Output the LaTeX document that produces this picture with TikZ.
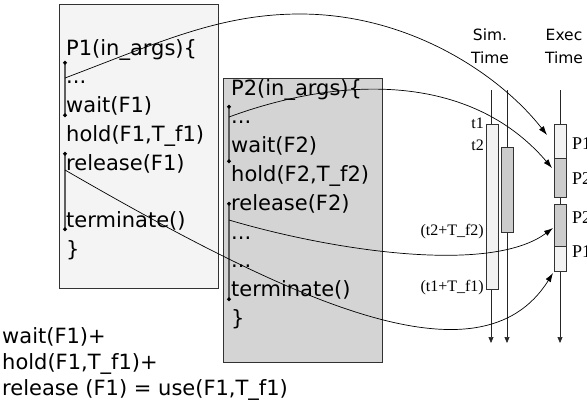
\documentclass[tikz,border=0pt]{standalone}
\usepackage{fontspec}
\setmainfont{DejaVu Sans}
\newfontfamily\serifnum{Liberation Serif}
\usetikzlibrary{arrows.meta, positioning}
\definecolor{procone}{RGB}{244,244,244}
\definecolor{proctwo}{RGB}{212,212,212}
\definecolor{edgegray}{RGB}{50,50,50}
\definecolor{bargray}{RGB}{95,95,95}
\definecolor{slotlight}{RGB}{242,242,242}
\definecolor{slotdark}{RGB}{204,204,204}

\begin{document}
\begin{tikzpicture}[x=1pt, y=-1pt,
        procbox/.style={rectangle, draw=edgegray, line width=0.8pt, minimum width=159pt, minimum height=284pt, inner sep=0pt},
        code/.style={anchor=north west, align=left, inner sep=0pt, font=\fontsize{21pt}{28.8pt}\selectfont},
        marker/.style={bargray, line width=1.3pt, {Circle[length=3.6pt,color=black]}-{Circle[length=3.6pt,color=black]}},
        call/.style={black, line width=0.7pt, -{Latex[length=9pt,width=6pt]}},
        axis/.style={black!85, line width=0.7pt, -{Triangle[length=6pt,width=5pt]}},
        slot/.style={rectangle, draw=edgegray, line width=0.7pt, minimum width=12pt, inner sep=0pt},
        tlabel/.style={inner sep=0pt, font=\serifnum\fontsize{16pt}{18pt}\selectfont},
        plabel/.style={anchor=west, inner sep=0pt, font=\serifnum\fontsize{18pt}{20pt}\selectfont},
        timehead/.style={align=center, inner sep=0pt, font=\fontsize{15.5pt}{23pt}\selectfont}
    ]
        \useasboundingbox (0,0) rectangle (587,416);
        \clip (0,0) rectangle (587,416);

        % process P1
        \node[procbox, fill=procone] (p1box) at (138.5,146) {};
        \node[code] (p1code) at (66,39) {P1(in\_args)\{\\...\\wait(F1)\\hold(F1,T\_f1)\\release(F1)\\[28.8pt]terminate()\\\}};
        \draw[marker] (65,61) -- (65,117);
        \draw[marker] (65,152) -- (65,231);

        % process P2
        \node[procbox, fill=proctwo] (p2box) at (303,220) {};
        \node[code] (p2code) at (231,79) {P2(in\_args)\{\\...\\wait(F2)\\hold(F2,T\_f2)\\release(F2)\\...\\...\\terminate()\\\}};
        \draw[marker] (229,105) -- (229,163);
        \draw[marker] (229,202) -- (229,301);

        % use() note
        \node[anchor=north west, align=left, inner sep=0pt, font=\fontsize{21pt}{26pt}\selectfont] (usenote) at (2,327) {wait(F1)+\\hold(F1,T\_f1)+\\release (F1) = use(F1,T\_f1)};

        % time axes
        \node[timehead] (simhead) at (490,46) {Sim.\\Time};
        \node[timehead] (exechead) at (564,46) {Exec\\Time};
        \coordinate (simA) at (491,90);
        \coordinate (simB) at (507,90);
        \coordinate (execA) at (560,90);
        \draw[axis] (simA) -- (491,343);
        \draw[axis] (simB) -- (507,343);
        \draw[axis] (execA) -- (560,343);

        \node[slot, fill=slotlight, minimum height=165pt] (s1) at (492,206.5) {};
        \node[slot, fill=slotdark, minimum height=85pt] (s2) at (507.5,189.5) {};
        \node[slot, fill=slotlight, minimum height=34pt] (e1) at (560,141) {};
        \node[slot, fill=slotdark, minimum height=39pt] (e2) at (560,177.5) {};
        \node[slot, fill=slotdark, minimum height=42pt] (e3) at (560,225) {};
        \node[slot, fill=slotlight, minimum height=25pt] (e4) at (560,258.5) {};

        \node[tlabel, anchor=east] (t1) at (484,123) {t1};
        \node[tlabel, anchor=east] (t2) at (484,145) {t2};
        \node[tlabel, anchor=east] (t2end) at (484,232) {(t2+T\_f2)};
        \node[tlabel, anchor=east] (t1end) at (484,288) {(t1+T\_f1)};
        \node[plabel] (e1lab) at (572,144) {P1};
        \node[plabel] (e2lab) at (572,179) {P2};
        \node[plabel] (e3lab) at (572,218) {P2};
        \node[plabel] (e4lab) at (572,252) {P1};

        % calls
        \coordinate (p1call) at (65,78);
        \coordinate (p2call) at (229,117);
        \coordinate (p2rel) at (229,220);
        \coordinate (p1rel) at (65,170);
        \coordinate (e1in) at (547,135);
        \coordinate (e2in) at (552,168);
        \coordinate (e3in) at (553,228);
        \coordinate (e4in) at (553,273);
        \draw[call] (p1call) .. controls (160,42) and (220,14) .. (300,14) .. controls (410,14) and (500,75) .. (e1in);
        \draw[call] (p2call) .. controls (340,76) and (470,72) .. (e2in);
        \draw[call] (p2rel) .. controls (330,250) and (490,275) .. (e3in);
        \draw[call] (p1rel) .. controls (290,300) and (480,390) .. (e4in);
    \end{tikzpicture}
\end{document}
